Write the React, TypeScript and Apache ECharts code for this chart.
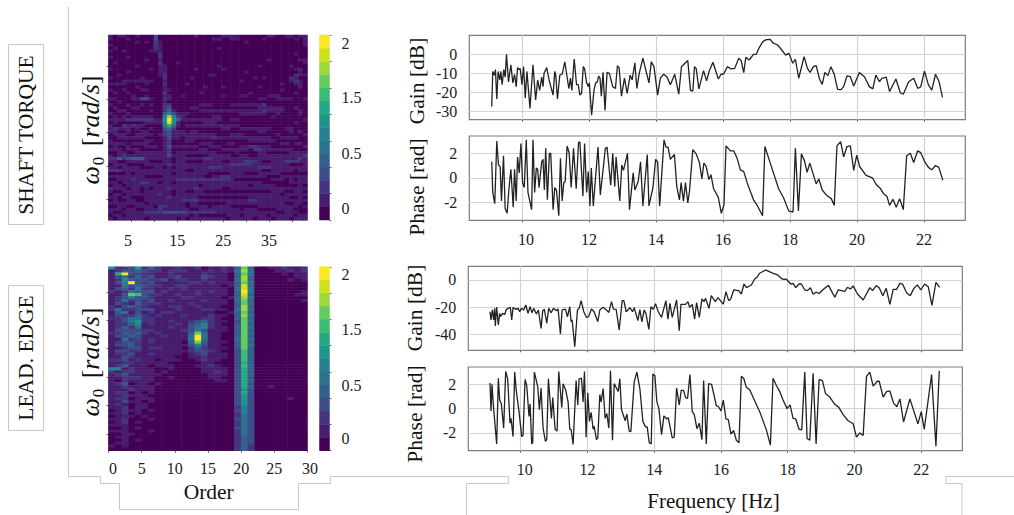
import React, { useEffect, useRef } from "react";
import * as echarts from "echarts";

const FONT = "'Liberation Serif', 'Times New Roman', serif";

// Colour scale (14 bands) and its axis
const colorBands = ["#440154","#481c6e","#453581","#3d4d8a","#355f8d","#2c718e","#27808e","#1f948c","#24a884","#3bbb75","#65cb5e","#9bd93c","#cde11d","#fde725"];
const scaleMin = -0.145;
const bandStep = 0.16;
const scaleMax = 2.097;
const colorbarTickValues = [-0.145, 0.175, 0.495, 0.815, 1.135, 1.455, 1.775, 2.095];
const colorbarLabelSlots = [0, 0.655, 1.334, 2.0];
const colorbarLabels = ["0", "0.5", "1.5", "2"];

// Order axes
const shaftOrderTicks = [5, 10, 15, 20, 25, 30, 35, 40];
const shaftOrderLabels = [5, 15, 25, 35];
const edgeOrderTicks = [0, 5, 10, 15, 20, 25, 30];

// Frequency axes
const freqMin = 8.43;
const freqMax = 23.23;
const freqTicks = [10, 12, 14, 16, 18, 20, 22];

// Omega axes
const omegaMin = 57;
const omegaMax = 142;
const shaftOmegaTicks = [66.6, 81.8, 97.2, 112.6, 127.8];
const edgeOmegaTicks = [64.7, 77.8, 90.9, 104.3, 117.4, 130.2];

// Heatmaps: one character per cell, colour band 0-9,a-d. First row is the top one.
const shaftHeat = [
"1011001000 30000 0000100000 1111000000 110011011",
"1000100000 30000 0000000011 0011000001 000000101",
"0000001010 21000 0000000000 0000010000 000000001",
"1000000000 21000 0000000000 0000000000 000000001",
"0100000000 21000 0000000001 0000000000 000000000",
"1001000001 11000 0000000000 0000000000 000000000",
"0000000000 02000 0000000000 0000000000 000000100",
"1000100000 02000 0000000000 0000000000 000000000",
"0000000010 01000 0000000000 0000000000 100000011",
"0100000000 02000 1000000000 0000000000 000000001",
"0000001000 01100 0000000001 0000000010 000001000",
"1000000001 01100 0000100000 1000000000 000000110",
"0000100000 01100 0000000000 0000010000 000000010",
"0010000000 01200 0000000110 0000000000 000000211",
"1000000100 00200 0001000000 0000000101 000002100",
"0001111111 00100 0000000000 0000100000 000001210",
"1111000010 00200 0010000000 0000000000 000100110",
"0000001000 00100 0000001000 1000000010 000000010",
"1001000110 00110 0000000000 0000000000 000100000",
"0100100000 00200 0000010000 0000001000 000000100",
"0000010010 00110 0100000000 1000110000 111000000",
"1100011331 00210 0000000000 0000000011 001111001",
"0010000000 00100 0000000000 0000000000 000000000",
"1000100101 00220 0000011100 0011111112 000000000",
"0100011000 00230 0001100000 0000000011 111100100",
"0011000001 00241 0000011111 1111111112 111100010",
"1000100000 00463 1110000000 0000111111 001000010",
"0101011111 006b6 2100000011 0000000000 010000000",
"1111222222 117d7 4111111111 0011000000 000000001",
"0100000011 116c6 1000001110 0000000000 000000100",
"1002121100 00584 1011111111 1111000000 000000000",
"1211101001 00352 0000000000 1100111111 100011000",
"1100100110 00231 1101100000 0000000011 000001010",
"0111001111 01231 1111111110 0011100000 001000001",
"0011111100 00131 1011111121 1111111111 100111100",
"1000000011 00120 0011000000 0000001111 110000000",
"1111011110 00120 0000011100 0110000000 000110110",
"0100100011 10131 1111100111 0000112211 100000001",
"1110111000 00120 0000011000 1111110221 111111000",
"0011001111 11120 1111111110 0001000011 000001111",
"1012111111 11131 1100000111 1100110011 111111112",
"2242344411 11110 1111112211 1111111111 111111121",
"1100111110 00110 1100001111 0011122210 011122211",
"0111000011 11121 1111111111 1122222111 111110001",
"1101111000 11010 1111111222 1111111122 211111111",
"2221111111 11111 1100111111 1111111110 011111011",
"0000101111 11110 1111111000 0011100011 111000000",
"1111111100 00111 1111110011 2211111111 000111111",
"0011121111 11111 2222222222 2210000000 011101011",
"1101111221 10110 1111111111 1111111110 000001111",
"0110111111 11111 1111101111 1111110111 110000010",
"2111011010 11121 1111211111 0011111111 111111111",
"1001111011 11110 1100110000 0000000000 011100110",
"0110111111 12110 1111111111 1111111111 111011111",
"1101100011 11121 1111100000 0000001111 111110010",
"0100110011 11111 1222211111 1111112211 111111111",
"1111111101 11111 1101100000 0111111111 111100110",
"0011001111 02211 1101111011 1100000011 111111101",
"1110110011 12111 1110011111 1111011100 001111000",
"1001111122 22333 3322222221 1111111111 110011100",
"0110111111 11111 1110100000 0111011111 011111011",
"1011111101 11111 0101111111 1011111011 101110111",
];

const edgeHeat = [
"7223724211211201121 4a4 00112112",
"1243432212221112121 5b5 00011212",
"18d3322112111121110 4a5 00001011",
"1352423112311132110 4b4 00000011",
"1264332231221121110 5b4 00000101",
"136d323111112212111 4a5 00000000",
"1153432211221111101 4c4 00000000",
"1342522112121111110 5c5 00000000",
"2125433121111212110 4d5 00000001",
"113a932211211211110 4c4 00000011",
"1235332111122111101 4b5 00000000",
"1252323112111121110 5a4 00000001",
"1321422211112111110 4a5 00000000",
"2134321112211211100 4b4 00000000",
"2522333111211122110 5b5 00000000",
"1451312122111111001 4a4 00000000",
"1322421211121112110 4b5 00000000",
"2235522111111122100 4a4 00000000",
"123572211211 2342110 3a5 00000000",
"122461211121 3462100 4a4 00000000",
"124251111211 3562110 4a5 00000000",
"133332211112 3631110 4a4 00000000",
"224342121111 4a51100 4a5 00000000",
"133431112111 5d51100 4a4 00000000",
"115231211111 5d51100 5a5 00000000",
"123321211110 4a41110 4a4 00000000",
"133421111111 3631100 4a5 00000000",
"112331221110 2421110 4a4 00000000",
"133221111111 2332100 394 00000000",
"122311211110 1231110 394 00000000",
"113211111100 1121110 394 00000000",
"223121101110 0121100 394 00000000",
"112211111000 0011000 384 00000000",
"124111011100 0112100 394 00000000",
"661211100100 0011110 384 00000000",
"212211101000 0011210 384 00000000",
"123111110000 0001110 384 00000000",
"112221100100 0001100 383 00000000",
"102111100000 0000110 384 00000000",
"123011010000 0000000 383 00000000",
"112111100000 0000000 384 00100000",
"111211100000 0000000 373 00000000",
"122010100000 0000000 383 00000000",
"112111000000 0000000 373 00000000",
"122011100000 0000000 373 00000100",
"113110100000 0000000 373 00000000",
"121011000000 0000000 373 00000000",
"112011000000 0000000 263 00000000",
"012110100000 0000000 363 00000000",
"112010000000 0000000 263 00000000",
"011101000000 0000000 253 00000000",
"112000100000 0000000 353 00000000",
"012010000000 0000000 253 00000000",
"111000000000 0000000 253 00000000",
"001010000000 0000000 353 00000000",
"111000100000 0000000 253 00000000",
"001100000000 0000000 253 00000000",
"011000000000 0000000 243 00000000",
"001010000000 0000000 243 00000000",
"011000000000 0000000 243 00000000",
"101000000000 0000000 242 00000000",
"000000000000 0000000 242 00000000",
];

// Frequency responses: [Hz, value]
const shaftGain = [[9.10,-27.5],[9.13,-9],[9.18,-11],[9.21,-8],[9.25,-23.5],[9.29,-9],[9.34,-13.5],[9.37,-9],[9.41,-16],[9.46,-8],[9.50,-12],[9.54,0],[9.60,-14.5],[9.67,-5.5],[9.73,-15],[9.78,-10.5],[9.83,-17],[9.87,-7],[9.91,-8],[9.95,-7.5],[10.0,-16],[10.05,-6.5],[10.1,-23],[10.15,-9],[10.24,-28.5],[10.33,-5.5],[10.41,-24],[10.47,-13.5],[10.53,-19],[10.59,-12],[10.63,-17],[10.66,-10],[10.74,-7],[10.81,-13.5],[10.93,-21.5],[10.98,-9],[11.01,-11],[11.06,-23.5],[11.13,-11],[11.2,-10.5],[11.28,-4],[11.40,-18],[11.45,-12.5],[11.49,-19],[11.56,-2.5],[11.63,-16],[11.68,-16],[11.73,-21.5],[11.78,-20.5],[11.83,-6.5],[11.87,-7.5],[11.93,-15],[11.98,-17],[12.01,-15],[12.08,-32],[12.15,-19],[12.2,-15],[12.25,-14.5],[12.29,-11.5],[12.33,-12.5],[12.37,-22],[12.42,-9.5],[12.48,-29.5],[12.54,-9.5],[12.61,-10],[12.71,-17],[12.79,-18],[12.85,-6],[12.9,-7],[12.97,-22],[13.06,-12.5],[13.14,-20.5],[13.23,-11],[13.29,-13.5],[13.37,-4.5],[13.43,-18],[13.5,-10],[13.61,-2],[13.79,-15],[13.86,-4],[13.94,-6.5],[14.05,-21.5],[14.13,-12.5],[14.23,-10.5],[14.33,-12],[14.43,-16],[14.56,-10.5],[14.68,-21],[14.76,-6.5],[14.95,-3.3],[15.03,-19],[15.1,-19.3],[15.15,-6.5],[15.2,-7.4],[15.28,-18.2],[15.42,-8.6],[15.51,-14],[15.59,-8.8],[15.7,-4.2],[15.86,-13],[15.94,-10.5],[16.02,-10.4],[16.13,-6.5],[16.24,-7.7],[16.35,-7.4],[16.47,-2.1],[16.54,-3.2],[16.62,-9.6],[16.68,-1.6],[16.78,-3],[16.91,0],[16.99,0],[17.08,3.5],[17.19,6.7],[17.29,7.7],[17.41,7.9],[17.49,6],[17.63,4.9],[17.73,2.8],[17.87,-0.4],[17.97,0.5],[18.08,-4.7],[18.16,-2.6],[18.26,-12.6],[18.42,-1.2],[18.52,-7.4],[18.6,-9.5],[18.7,-6.5],[18.78,-6],[18.88,-13],[18.96,-15.8],[19.04,-9.5],[19.13,-11.2],[19.22,-6.5],[19.32,-10.5],[19.42,-18.4],[19.52,-18.6],[19.6,-17],[19.7,-11.4],[19.8,-11.8],[19.9,-16.7],[20.07,-9.6],[20.22,-11.8],[20.37,-17],[20.47,-18.2],[20.56,-10.9],[20.67,-14.4],[20.74,-12.6],[20.87,-12],[20.97,-19.6],[21.16,-13],[21.29,-20.2],[21.38,-21],[21.54,-14.4],[21.69,-12.6],[21.81,-17.9],[21.9,-17.2],[22.01,-8.8],[22.13,-16.1],[22.23,-18.8],[22.34,-10.5],[22.44,-14],[22.55,-22.6]];

const shaftPhase = [[9.10,1.3],[9.13,-1.2],[9.19,-2.1],[9.25,3.0],[9.3,1.05],[9.35,0.9],[9.39,-1.9],[9.45,1.8],[9.5,-2.5],[9.56,-2.9],[9.61,-1],[9.67,0.7],[9.74,-2.4],[9.78,0.7],[9.83,-1.9],[9.87,1.7],[9.92,0.4],[9.97,2.8],[10.02,-0.4],[10.07,-0.8],[10.13,3.1],[10.18,-1.2],[10.29,-2.6],[10.33,3.1],[10.38,-1.2],[10.43,0.8],[10.47,0.7],[10.51,-0.8],[10.59,1.3],[10.63,1.5],[10.67,-1],[10.71,2.4],[10.76,-1.8],[10.82,2],[10.86,2],[10.93,-2.6],[10.98,-0.8],[11.03,-1],[11.1,-3.1],[11.15,1.6],[11.2,-1.9],[11.25,-0.4],[11.29,-0.3],[11.35,2.6],[11.41,2],[11.47,-0.8],[11.54,2.4],[11.62,-0.9],[11.69,2.9],[11.73,2.9],[11.82,-1.5],[11.87,2.8],[11.93,-1.2],[11.98,0.5],[12.03,-2.3],[12.07,0.8],[12.13,-2.3],[12.27,2.5],[12.34,-1.4],[12.49,2.4],[12.54,2.5],[12.65,-0.6],[12.71,2],[12.77,-0.7],[12.81,1.7],[12.92,-1.9],[12.98,1.05],[13.03,0.6],[13.15,2],[13.21,-2.6],[13.32,0.4],[13.37,-1],[13.47,-0.3],[13.54,1.3],[13.61,-2.3],[13.74,1.9],[13.79,-2.3],[13.91,-0.8],[13.99,1.5],[14.05,1.3],[14.11,-2.3],[14.24,3.1],[14.3,2.5],[14.36,2.5],[14.43,1.5],[14.55,1.9],[14.62,-0.7],[14.7,-1.8],[14.75,-0.4],[14.82,-1.9],[14.88,-0.4],[14.95,-2.05],[15.0,-1.1],[15.1,2.3],[15.2,1.95],[15.3,1.2],[15.37,-0.1],[15.43,1.2],[15.5,0.9],[15.58,-0.15],[15.64,0.25],[15.72,-0.9],[15.86,-1.6],[15.95,-2.9],[16.03,-2.2],[16.09,2.6],[16.22,2.2],[16.32,2.2],[16.42,1.6],[16.52,0.65],[16.62,0.5],[16.72,-0.4],[16.91,-1.8],[17.03,-2.3],[17.18,-3.1],[17.25,2.55],[17.41,1.2],[17.66,-0.9],[17.81,-1.65],[17.96,-2.7],[18.09,-2.8],[18.16,2.4],[18.25,-2.7],[18.34,1.95],[18.43,1.4],[18.51,0.45],[18.59,1.2],[18.68,0.4],[18.78,-0.5],[18.86,-0.1],[18.96,-1],[19.1,-1.45],[19.23,-1.7],[19.32,-2.25],[19.4,2.6],[19.51,2.95],[19.6,1.7],[19.7,2.55],[19.8,2.6],[19.9,0.6],[19.99,1.85],[20.08,0.9],[20.27,0.2],[20.46,0],[20.57,-0.55],[20.69,-0.85],[20.79,-1.3],[20.89,-1.5],[20.97,-2.25],[21.07,-1.75],[21.17,-2.4],[21.27,-1.7],[21.38,-2.6],[21.48,1.8],[21.59,2],[21.69,1.25],[21.81,2.2],[21.9,2.05],[22.03,1.25],[22.13,0.85],[22.23,0.65],[22.34,1],[22.44,0.85],[22.56,-0.2]];

const edgeGain = [[9.08,-23.5],[9.11,-29.6],[9.15,-22],[9.19,-29.6],[9.22,-21],[9.24,-34],[9.28,-20],[9.33,-33.3],[9.37,-24.7],[9.4,-27],[9.46,-24.7],[9.52,-25.5],[9.57,-21.7],[9.69,-20.2],[9.73,-29.6],[9.77,-20.5],[9.87,-21.7],[9.92,-21],[9.97,-23.5],[10.02,-21],[10.09,-22.2],[10.15,-18.5],[10.22,-24.7],[10.28,-19.8],[10.34,-24.2],[10.39,-21],[10.47,-25.2],[10.53,-22.2],[10.61,-35.8],[10.66,-22.7],[10.71,-21.7],[10.78,-32],[10.84,-21],[10.91,-24.2],[10.98,-21],[11.07,-22.7],[11.12,-21.5],[11.19,-40],[11.24,-22.2],[11.34,-21.5],[11.4,-27.2],[11.47,-19.8],[11.51,-30.9],[11.54,-29.5],[11.62,-49.4],[11.7,-22.2],[11.75,-21],[11.81,-15.3],[11.89,-23.5],[11.97,-27.7],[12.03,-27.2],[12.12,-21.5],[12.2,-23.5],[12.31,-30.9],[12.37,-22.2],[12.47,-20.2],[12.57,-22.2],[12.64,-24],[12.72,-16],[12.78,-21.5],[12.86,-21.7],[12.95,-37],[13.04,-15.3],[13.09,-15.3],[13.16,-23.5],[13.27,-20.5],[13.35,-23.5],[13.4,-20.5],[13.51,-30],[13.57,-22],[13.63,-31],[13.7,-22.2],[13.75,-24.7],[13.84,-36.5],[13.9,-19.8],[13.97,-21.7],[14.04,-17.5],[14.12,-23.5],[14.22,-27.7],[14.35,-15.3],[14.41,-29],[14.47,-17.3],[14.54,-27.7],[14.67,-14.8],[14.75,-37.5],[14.8,-18],[14.94,-18],[15.01,-16],[15.06,-20.2],[15.14,-18],[15.21,-29],[15.27,-16.8],[15.35,-27.7],[15.43,-14],[15.49,-16],[15.54,-13.6],[15.64,-21],[15.71,-11.6],[15.83,-16],[15.91,-13],[16.07,-17.8],[16.15,-8.6],[16.23,-15.3],[16.29,-14.3],[16.38,-7.4],[16.53,-7.9],[16.61,-10.4],[16.69,-3],[16.76,-5.7],[16.91,-3.7],[17.01,0.7],[17.08,2],[17.16,5],[17.34,7.4],[17.51,5.4],[17.71,3.5],[17.83,0.7],[17.96,0.5],[18.09,-3],[18.16,-2.5],[18.24,-5.7],[18.34,-3],[18.41,-3],[18.51,-7.4],[18.59,-7.9],[18.68,-5.7],[18.76,-10.6],[18.84,-9],[18.94,-10],[19.06,-7],[19.22,-4],[19.41,-12.8],[19.51,-7.4],[19.71,-8.4],[19.79,-5.4],[19.88,-6.7],[19.96,-4.4],[20.09,-10.4],[20.26,-14.8],[20.46,-5.7],[20.54,-7.9],[20.65,-4.2],[20.74,-5.7],[20.85,-11.6],[20.95,-6.2],[21.06,-18],[21.16,-7],[21.26,-7],[21.36,-2.5],[21.44,-3],[21.56,-9.4],[21.67,-11.6],[21.78,-6.2],[21.88,-3.7],[21.99,-7.4],[22.1,-3],[22.21,-5],[22.32,-18.8],[22.44,-1.7],[22.55,-5.4]];

const edgePhase = [[9.08,2.1],[9.11,-0.2],[9.14,2],[9.18,0.3],[9.28,-2.9],[9.33,2.5],[9.37,0.7],[9.42,0.4],[9.49,-1.6],[9.55,3.05],[9.61,2.45],[9.68,-1.2],[9.71,-0.8],[9.77,-2.3],[9.82,3],[9.87,1.4],[9.95,-0.25],[10.03,-2.3],[10.07,-2.2],[10.13,2.4],[10.18,1.9],[10.25,-0.65],[10.28,0.4],[10.33,-2.9],[10.36,-2.8],[10.41,3],[10.51,1.8],[10.56,-0.1],[10.61,1.7],[10.67,-1.6],[10.74,-2.7],[10.78,-2.55],[10.83,2.45],[10.92,-0.8],[10.96,0.9],[11.03,-1.7],[11.09,-1.85],[11.14,3.05],[11.23,0.1],[11.27,2.05],[11.35,1.5],[11.42,0.55],[11.47,-1.7],[11.51,-1.7],[11.57,-2.95],[11.66,2.3],[11.71,0.3],[11.75,2.45],[11.82,2.5],[11.87,0.55],[11.91,3.05],[11.96,-2.35],[12.01,1.3],[12.06,-1.05],[12.11,-0.3],[12.17,-1.7],[12.2,-1.45],[12.27,-2.55],[12.31,-2.4],[12.37,1.15],[12.41,0.55],[12.47,1.65],[12.53,-0.8],[12.58,-0.4],[12.64,-1.6],[12.69,3.1],[12.75,-2.6],[12.8,2.05],[12.92,1.4],[12.97,2.45],[13.02,-0.1],[13.13,-1],[13.18,-0.45],[13.25,-1.85],[13.3,-1.9],[13.4,2.2],[13.48,3],[13.57,1.65],[13.66,-1.05],[13.74,-1.5],[13.79,-1.5],[13.85,-2.8],[13.91,-2.9],[13.96,2.85],[14.02,2.7],[14.08,0.55],[14.14,0],[14.22,-2.15],[14.29,-0.6],[14.37,-0.85],[14.42,-0.75],[14.54,-2.4],[14.6,-2.35],[14.67,1.7],[14.75,0.3],[14.81,1.5],[14.88,1.5],[14.94,0.9],[15.0,0.85],[15.07,2.8],[15.14,-0.25],[15.2,-0.5],[15.28,-1.65],[15.35,-1.2],[15.43,-2.55],[15.48,2.3],[15.56,-2.9],[15.63,2.05],[15.72,2],[15.86,0.25],[15.93,0.15],[16,-0.2],[16.07,0.7],[16.15,-0.85],[16.22,-0.9],[16.3,-2.1],[16.38,-1.8],[16.46,-2.6],[16.54,-2.8],[16.61,2.65],[16.68,2.5],[16.76,1.75],[16.86,1.55],[17.16,-0.25],[17.36,-1.75],[17.48,-3],[17.56,2.5],[17.66,1.9],[17.76,1.4],[17.86,0.7],[17.98,0],[18.07,0.3],[18.16,-0.8],[18.24,-0.85],[18.34,-1.7],[18.42,-1.75],[18.51,3],[18.58,-2.45],[18.66,-2.6],[18.76,2.9],[18.85,-2.9],[18.94,2.4],[19.04,2.3],[19.13,1.25],[19.26,0.95],[19.41,0.35],[19.53,0.1],[19.66,-0.5],[19.81,-1],[19.96,-1.25],[20.06,-2.35],[20.16,-2],[20.26,-2.2],[20.36,2.65],[20.46,3],[20.56,1.85],[20.68,2.25],[20.74,2.25],[20.86,0.95],[20.96,1.4],[21.06,1.45],[21.17,0.45],[21.27,0.15],[21.36,0.8],[21.47,-1.1],[21.66,0.8],[21.9,-1.25],[22,-0.25],[22.09,-1.7],[22.31,2.8],[22.44,-3.1],[22.54,3.1]];

const cellsFrom = (rows: string[]) => {
  const out: number[][] = [];
  rows.forEach((row, r) => {
    row.replace(/ /g, "").split("").forEach((ch, c) => {
      out.push([c, r, scaleMin + (parseInt(ch, 16) + 0.5) * bandStep]);
    });
  });
  return out;
};
const indexList = (n: number) => Array.from({ length: n }, (_, i) => String(i));

const GRID_LINE = "#d2d2d2";
const FRAME = "#c9c9c9";
const labelBase = { fontFamily: FONT, fontSize: 16, color: "#222" };
const tickStyle = { length: 2, lineStyle: { color: "#666", width: 1 } };

function buildOption() {
  const grid: any[] = [];
  const xAxis: any[] = [];
  const yAxis: any[] = [];
  const series: any[] = [];

  const addHeat = (l: number, t: number, w: number, h: number, rows: string[], order: any, omegaTicks: number[]) => {
    const g = grid.length;
    grid.push({ left: l, top: t, width: w, height: h });
    const xi = xAxis.length, yi = yAxis.length;
    const nCols = rows[0].replace(/ /g, "").length;
    xAxis.push({ type: "category", gridIndex: g, show: false, data: indexList(nCols) });
    xAxis.push({
      type: "value", gridIndex: g, min: 0, max: order.max, position: "bottom",
      splitLine: { show: false },
      axisLine: { show: true, onZero: false, lineStyle: { color: "#999" } },
      axisTick: { show: true, customValues: order.ticks, ...tickStyle },
      axisLabel: {
        ...labelBase, customValues: order.labels, margin: order.margin, hideOverlap: false, showMinLabel: true, showMaxLabel: true,
        formatter: (v: number) => {
          const p = order.pad[v];
          return p ? `{${p}|${v}}` : String(v);
        },
        rich: {
          r: { ...labelBase, padding: [0, 0, 0, 9] },
          q: { ...labelBase, padding: [0, 0, 0, 5] },
          l: { ...labelBase, padding: [0, 7, 0, 0] },
        },
      },
    });
    yAxis.push({ type: "category", gridIndex: g, show: false, inverse: true, data: indexList(rows.length) });
    yAxis.push({
      type: "value", gridIndex: g, min: omegaMin, max: omegaMax, position: "left",
      splitLine: { show: false },
      axisLine: { show: true, onZero: false, lineStyle: { color: "#999" } },
      axisTick: { show: true, customValues: omegaTicks, ...tickStyle },
      axisLabel: { show: false },
    });
    series.push({
      type: "heatmap", xAxisIndex: xi, yAxisIndex: yi, data: cellsFrom(rows), silent: true,
      progressive: 0, emphasis: { disabled: true },
    });
  };

  const addBar = (l: number, t: number, w: number, h: number) => {
    const g = grid.length;
    grid.push({ left: l, top: t, width: w, height: h });
    const xi = xAxis.length, yi = yAxis.length;
    xAxis.push({ type: "category", gridIndex: g, show: false, data: ["c"] });
    yAxis.push({ type: "category", gridIndex: g, show: false, data: indexList(colorBands.length) });
    yAxis.push({
      type: "value", gridIndex: g, min: scaleMin, max: scaleMax, position: "right",
      splitLine: { show: false },
      axisLine: { show: false, onZero: false },
      axisTick: { show: true, customValues: colorbarTickValues, ...tickStyle },
      axisLabel: {
        ...labelBase, customValues: colorbarLabelSlots, margin: 12, hideOverlap: false, showMinLabel: true, showMaxLabel: true,
        formatter: (v: number) => {
          let best = 0;
          colorbarLabelSlots.forEach((s, i) => { if (Math.abs(s - v) < Math.abs(colorbarLabelSlots[best] - v)) best = i; });
          return colorbarLabels[best];
        },
      },
    });
    series.push({
      type: "heatmap", xAxisIndex: xi, yAxisIndex: yi, silent: true, progressive: 0, emphasis: { disabled: true },
      data: colorBands.map((_, i) => [0, i, scaleMin + (i + 0.5) * bandStep]),
    });
  };

  const addLine = (l: number, t: number, w: number, h: number, data: number[][], yMin: number, yMax: number, yTicks: number[], showX: boolean) => {
    const g = grid.length;
    grid.push({ left: l, top: t, width: w, height: h, show: true, borderColor: "#7d7d7d", borderWidth: 1.2, backgroundColor: "#fff" });
    const xi = xAxis.length, yi = yAxis.length;
    xAxis.push({
      type: "value", gridIndex: g, min: freqMin, max: freqMax,
      splitLine: { show: false },
      axisLine: { show: false, onZero: false },
      axisTick: { show: true, customValues: freqTicks, length: 2, lineStyle: { color: "#555" } },
      axisLabel: showX ? {
        ...labelBase, customValues: freqTicks, margin: 11, hideOverlap: false,
        formatter: (v: number) => (v === 10 ? `{r|${v}}` : String(v)),
        rich: { r: { ...labelBase, padding: [0, 0, 0, 8] } },
      } : { show: false },
    });
    yAxis.push({
      type: "value", gridIndex: g, min: yMin, max: yMax,
      splitLine: { show: false },
      axisLine: { show: false, onZero: false },
      axisTick: { show: false },
      axisLabel: { ...labelBase, customValues: yTicks, margin: 12, hideOverlap: false },
    });
    series.push({
      type: "line", xAxisIndex: xi, yAxisIndex: yi, data, symbol: "none", showSymbol: false, silent: true, z: 3,
      lineStyle: { color: "#222", width: 1.3 },
      markLine: {
        silent: true, symbol: "none", z: 1, animation: false, label: { show: false },
        lineStyle: { color: GRID_LINE, width: 1.2, type: "solid" },
        data: [...freqTicks.map((v) => ({ xAxis: v })), ...yTicks.map((v) => ({ yAxis: v }))],
      },
    });
  };

  addHeat(108.5, 35, 199, 185, shaftHeat, { max: 43.4, ticks: shaftOrderTicks, labels: shaftOrderLabels, margin: 12, pad: { 5: "l" } }, shaftOmegaTicks);
  addBar(319.5, 35, 10, 185);
  addHeat(108.5, 266.7, 199, 184, edgeHeat, { max: 30, ticks: edgeOrderTicks, labels: edgeOrderTicks, margin: 10, pad: { 0: "r", 30: "q" } }, edgeOmegaTicks);
  addBar(319.5, 266.7, 10, 184);

  addLine(469.3, 35.3, 496, 84.4, shaftGain, -34.4, 10, [-30, -20, -10, 0], false);
  addLine(469.3, 136, 496, 84.3, shaftPhase, -3.47, 3.41, [-2, 0, 2], true);
  addLine(468.3, 266.3, 494, 84, edgeGain, -52, 10.1, [-40, -20, 0], false);
  addLine(468.3, 367, 494, 83.7, edgePhase, -3.46, 3.42, [-2, 0, 2], true);

  const line = (points: number[][]) => ({
    type: "polyline", silent: true, z: 0, shape: { points }, style: { stroke: FRAME, lineWidth: 1, fill: "none" },
  });
  const box = (x: number, y: number, width: number, height: number) => ({
    type: "rect", silent: true, z: 0, shape: { x, y, width, height }, style: { stroke: FRAME, lineWidth: 1, fill: "none" },
  });
  const title = (text: string, x: number, y: number, fontSize: number, rotated: boolean) => ({
    type: "text", silent: true, z: 10, x, y, rotation: rotated ? Math.PI / 2 : 0,
    style: { text, font: `${fontSize}px ${FONT}`, fill: "#111", align: "center", verticalAlign: "middle" },
  });
  const omegaTitle = (x: number, y: number) => ({
    type: "text", silent: true, z: 10, x, y, rotation: Math.PI / 2,
    style: {
      text: "{w|ω}{s|0} {n|[}{w|rad/s}{n|]}", fill: "#111", align: "center", verticalAlign: "middle",
      rich: {
        w: { fontFamily: FONT, fontStyle: "italic", fontSize: 26, lineHeight: 34, fill: "#111" },
        n: { fontFamily: FONT, fontSize: 26, lineHeight: 34, fill: "#111" },
        s: { fontFamily: FONT, fontSize: 17, lineHeight: 17, verticalAlign: "bottom", fill: "#111", padding: [0, 7, 0, 1] },
      },
    },
  });

  const graphic = [
    line([[68.5, 7], [68.5, 476.5], [100.5, 476.5], [100.5, 483.5], [119.5, 483.5], [119.5, 509.5], [298.5, 509.5], [298.5, 483.5], [330.5, 483.5], [330.5, 476.5], [508.5, 476.5], [508.5, 483.5], [466.5, 483.5], [466.5, 515]]),
    line([[1014, 476.5], [946, 476.5], [946, 483.5], [962, 483.5], [962, 515]]),
    box(8.5, 44.5, 35, 180),
    box(8.5, 285.5, 35, 145),
    title("SHAFT TORQUE", 25.7, 135, 21.5, true),
    title("LEAD. EDGE", 25.7, 358, 21.5, true),
    omegaTitle(90, 130),
    omegaTitle(90, 362),
    title("Gain [dB]", 417, 81, 21.5, true),
    title("Phase [rad]", 417, 187, 21.5, true),
    title("Gain [dB]", 415, 308, 21.5, true),
    title("Phase [rad]", 415, 414, 21.5, true),
    title("Order", 208.7, 491.7, 21.5, false),
    title("Frequency [Hz]", 713.5, 501, 21, false),
  ];

  return {
    animation: false,
    backgroundColor: "#fff",
    grid, xAxis, yAxis, series, graphic,
    visualMap: {
      type: "piecewise", show: false, dimension: 2,
      seriesIndex: [0, 1, 2, 3],
      pieces: colorBands.map((color, i) => ({ min: scaleMin + i * bandStep, max: scaleMin + (i + 1) * bandStep, color })),
    },
  };
}

export default function App() {
  const ref = useRef<HTMLDivElement>(null);
  useEffect(() => {
    document.body.style.margin = "0";
    const chart = echarts.init(ref.current!, null, { renderer: "svg" });
    chart.setOption(buildOption() as any);
    return () => chart.dispose();
  }, []);
  return <div ref={ref} style={{ width: 1014, height: 515 }} />;
}
